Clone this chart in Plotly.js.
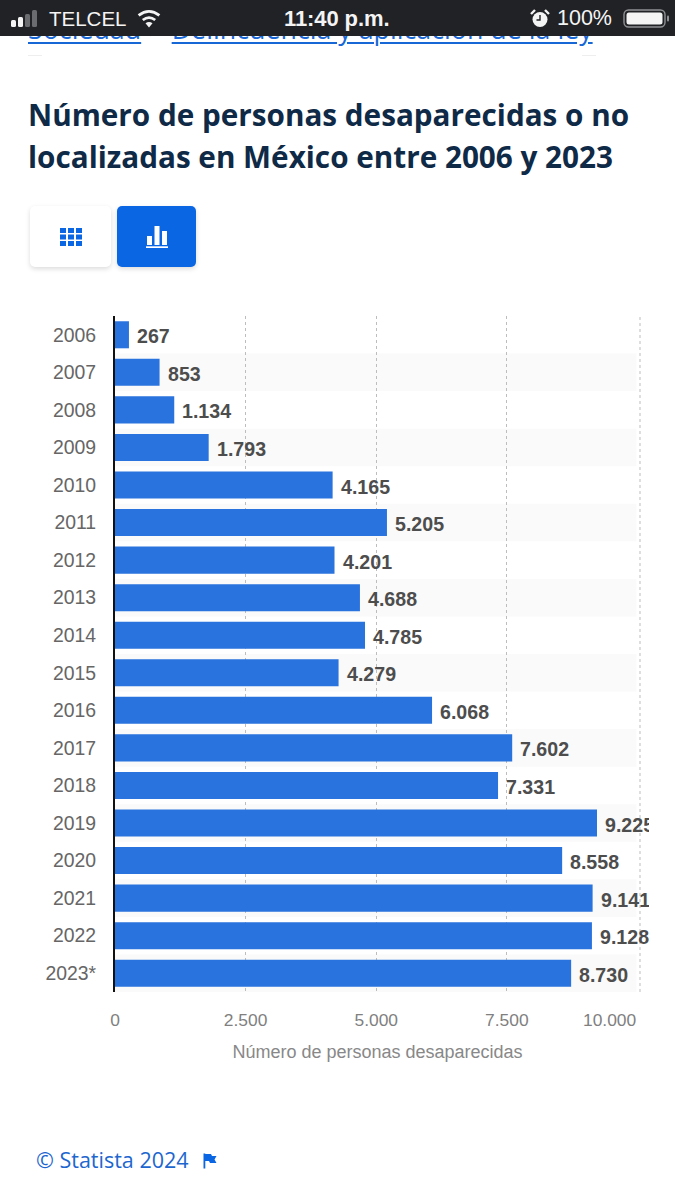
<!DOCTYPE html>
<html lang="es">
<head>
<meta charset="utf-8">
<script src="https://cdn.plot.ly/plotly-3.0.1.min.js"></script>
<style>
html,body{margin:0;padding:0;background:#fff;width:675px;height:1200px;overflow:hidden}
body{position:relative;font-family:"Open Sans",sans-serif}
.abs{position:absolute;white-space:nowrap}
#bar{position:absolute;left:0;top:0;width:675px;height:36px;background:#212226;z-index:5;color:#f4f4f4;font-family:"Liberation Sans",sans-serif}
#crumb{left:28px;top:12px;font-size:26.8px;line-height:34px;color:#1767d6}
#crumb u{text-decoration-thickness:2px;text-underline-offset:3px}
#crumb span{color:#8a8a8a;font-size:15px;margin:0 18px 0 8px;vertical-align:2px}
.rule{position:absolute;top:55px;height:1px;width:14px;background:#eeeeee}
h1{position:absolute;left:28px;top:94px;margin:0;font:700 29.7px/41.5px "Open Sans",sans-serif;color:#0f2a47;white-space:nowrap;z-index:2}
.btn{position:absolute;top:206px;height:61px;border-radius:5px;box-shadow:0 2px 5px rgba(0,0,0,.14);display:flex;align-items:center;justify-content:center}
#chart{position:absolute;left:0;top:0;width:649px;height:1200px;overflow:hidden}
#foot{left:36px;top:1146px;font-size:21.5px;line-height:28px;color:#1d66cf}
</style>
</head>
<body>
<div id="chart"></div>

<div class="abs" id="crumb"><u>Sociedad</u><span>›</span><u>Delincuencia y aplicación de la ley</u></div>
<div class="rule" style="left:28px"></div>
<div class="rule" style="left:582px"></div>

<div id="bar">
  <svg class="abs" style="left:11px;top:10px" width="32" height="17" viewBox="0 0 32 17">
    <rect x="0" y="10" width="5" height="7" rx="1.5" fill="#f4f4f4"/>
    <rect x="7" y="7" width="5" height="10" rx="1.5" fill="#f4f4f4"/>
    <rect x="14" y="4" width="5" height="13" rx="1.5" fill="#6b6c70"/>
    <rect x="21" y="0" width="5" height="17" rx="1.5" fill="#6b6c70"/>
  </svg>
  <div class="abs" style="left:49px;top:6px;font-size:20.5px;line-height:25px">TELCEL</div>
  <svg class="abs" style="left:136px;top:9px" width="26" height="19" viewBox="0 0 26 19">
    <path d="M13 18.5 L9.5 14.2 Q13 11.6 16.5 14.2Z" fill="#f4f4f4"/>
    <path d="M6.8 11 Q13 6.2 19.2 11" stroke="#f4f4f4" stroke-width="2.8" fill="none"/>
    <path d="M2.6 6.4 Q13 -1.6 23.4 6.4" stroke="#f4f4f4" stroke-width="2.8" fill="none"/>
  </svg>
  <div class="abs" style="left:284px;top:6px;font-size:22px;line-height:25px;font-weight:700;letter-spacing:-.1px">11:40 p.m.</div>
  <svg class="abs" style="left:530px;top:9px" width="20" height="19" viewBox="0 0 20 19">
    <circle cx="10" cy="10.5" r="7.5" fill="#f4f4f4"/>
    <path d="M10 6v5H6.5" stroke="#212226" stroke-width="1.4" fill="none"/>
    <path d="M1 5 L5 1 M19 5 L15 1" stroke="#f4f4f4" stroke-width="2.4"/>
  </svg>
  <div class="abs" style="left:557px;top:6px;font-size:21.5px;line-height:25px">100%</div>
  <svg class="abs" style="left:623px;top:9px" width="50" height="20" viewBox="0 0 50 20">
    <rect x="1" y="1" width="41" height="17" rx="4.5" fill="none" stroke="#8f9094" stroke-width="1.4"/>
    <rect x="3.5" y="3.5" width="36" height="12" rx="2.5" fill="#f4f4f4"/>
    <rect x="44" y="6.5" width="2" height="6" rx="1" fill="#8f9094"/>
  </svg>
</div>

<h1>Número de personas desaparecidas o no<br>localizadas en México entre 2006 y 2023</h1>

<div class="btn" style="left:30px;width:81px;background:#fff">
  <svg width="22" height="18" viewBox="0 0 22 18" fill="#0b66e4">
    <rect x="0" y="0" width="6" height="5"/><rect x="8" y="0" width="6" height="5"/><rect x="16" y="0" width="6" height="5"/>
    <rect x="0" y="6.5" width="6" height="5"/><rect x="8" y="6.5" width="6" height="5"/><rect x="16" y="6.5" width="6" height="5"/>
    <rect x="0" y="13" width="6" height="5"/><rect x="8" y="13" width="6" height="5"/><rect x="16" y="13" width="6" height="5"/>
  </svg>
</div>
<div class="btn" style="left:117px;width:79px;background:#0b66e4">
  <svg width="22" height="23" viewBox="0 0 22 23" fill="#fff">
    <rect x="1" y="11" width="5" height="9"/><rect x="8.5" y="1" width="5" height="19"/><rect x="16" y="6" width="5" height="14"/>
    <rect x="0" y="21.3" width="22" height="1.7"/>
  </svg>
</div>

<div class="abs" id="foot">© Statista 2024</div>
<svg class="abs" style="left:203px;top:1153px" width="14" height="16" viewBox="0 0 14 16" fill="#0b66e4">
  <rect x="0.5" y="0.5" width="1.8" height="15"/>
  <path d="M2 1H8L9 3H13.5L11.5 6.5L13.5 10H7L6 8H2Z"/>
</svg>

<script>
var years = ["2006","2007","2008","2009","2010","2011","2012","2013","2014","2015","2016","2017","2018","2019","2020","2021","2022","2023*"];
var persons = [267,853,1134,1793,4165,5205,4201,4688,4785,4279,6068,7602,7331,9225,8558,9141,9128,8730];
var xTickValues = [0,2500,5000,7500];
var xTickLabels = ["0","2.500","5.000","7.500"];
var lastTickLabel = "10.000";
var axisMax = 10048;
var bandEnd = 9980;
var axisTitle = "Número de personas desaparecidas";

function fmt(v){ return String(v).replace(/\B(?=(\d{3})+$)/g,"."); }

var shapes = [];
years.forEach(function(y,i){
  if(i%2===1){
    shapes.push({type:"rect",layer:"below",xref:"x",yref:"y",x0:0,x1:bandEnd,y0:i-0.5,y1:i+0.5,
      fillcolor:"#fafafa",line:{width:0}});
  }
});
shapes.push({type:"line",layer:"between",xref:"paper",yref:"paper",x0:1,x1:1,y0:0,y1:1,
  line:{color:"#bdbdbd",width:1,dash:"dot"}});

var labels = persons.map(function(v,i){
  return {x:v,y:i,xref:"x",yref:"y",text:fmt(v),showarrow:false,xanchor:"left",yanchor:"middle",xshift:6,yshift:-1.5,
    font:{family:"Liberation Sans",size:19.6,color:"#4d4d4d",weight:700}};
});
labels.push({x:1,y:0,xref:"paper",yref:"paper",yanchor:"top",xanchor:"right",yshift:-16,xshift:-2,text:lastTickLabel,showarrow:false,
  font:{family:"Liberation Sans",size:17.4,color:"#808080"}});

Plotly.newPlot("chart",[{
  type:"bar",orientation:"h",x:persons,y:years,width:0.72,
  marker:{color:"#2873dd",line:{width:0}},hoverinfo:"skip",showlegend:false
}],{
  width:649,height:1200,autosize:false,showlegend:false,
  paper_bgcolor:"rgba(0,0,0,0)",plot_bgcolor:"rgba(0,0,0,0)",
  margin:{l:114.5,r:9,t:315.5,b:207.5,pad:0},
  bargap:0.28,
  xaxis:{range:[0,axisMax],tickvals:xTickValues,ticktext:xTickLabels,tickmode:"array",
    showgrid:true,gridcolor:"#bdbdbd",griddash:"dot",gridwidth:1,zeroline:false,showline:false,ticks:"",
    tickfont:{family:"Liberation Sans",size:17.4,color:"#808080"},ticklabelstandoff:16,
    title:{text:axisTitle,standoff:15,font:{family:"Liberation Sans",size:18,color:"#888888"}}},
  yaxis:{type:"category",categoryorder:"array",categoryarray:years,range:[17.5,-0.5],
    showgrid:false,zeroline:false,showline:true,linecolor:"#111111",linewidth:2,ticks:"",
    ticklabelstandoff:13,tickfont:{family:"Liberation Sans",size:19.4,color:"#666666"}},
  shapes:shapes,annotations:labels
},{displayModeBar:false,staticPlot:true});
</script>
</body>
</html>
